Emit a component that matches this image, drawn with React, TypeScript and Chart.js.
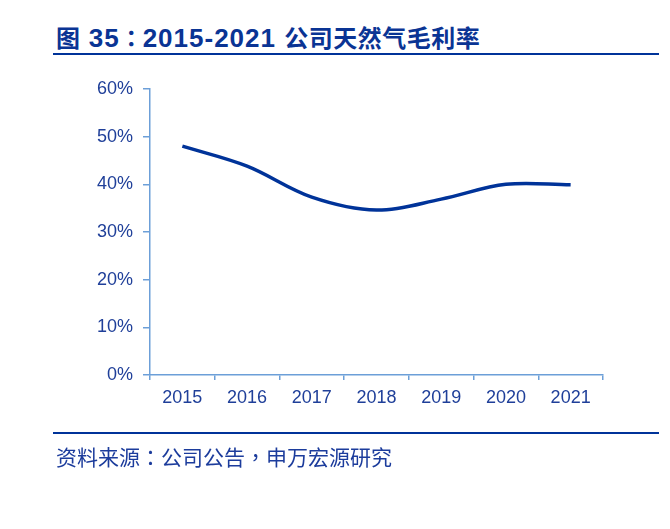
import React, { useEffect, useRef } from "react";
import { Chart, registerables } from "chart.js";

Chart.register(...registerables);

const years = ["2015", "2016", "2017", "2018", "2019", "2020", "2021"];
const grossMargin = [48, 43.8, 37.3, 34.6, 36.9, 40.0, 39.9];
const yTicks = [0, 10, 20, 30, 40, 50, 60];

const titleFig = "图";
const titleNum = "35";
const titleYears = "2015-2021";
const titleName = "公司天然气毛利率";
const sourceLabel = "资料来源";
const sourceA = "公司公告";
const sourceB = "申万宏源研究";

const AXIS_COLOR = "#6c9fd8";
const LABEL_COLOR = "#1f3f99";
const LINE_COLOR = "#003399";

const LATIN = "'Liberation Sans', Arial, sans-serif";
const CJK = "'Noto Sans CJK SC', sans-serif";
const PUNCT = "'Noto Sans CJK TC', sans-serif";

export default function App() {
  const canvasRef = useRef<HTMLCanvasElement>(null);

  useEffect(() => {
    const canvas = canvasRef.current;
    if (!canvas) return;
    const chart = new Chart(canvas, {
      type: "line",
      data: {
        labels: years,
        datasets: [
          {
            data: grossMargin,
            borderColor: LINE_COLOR,
            borderWidth: 3.5,
            pointRadius: 0,
            tension: 0.35,
            fill: false,
          },
        ],
      },
      options: {
        responsive: false,
        animation: false,
        layout: { padding: { top: 89, right: 67, left: 0, bottom: 0 } },
        plugins: { legend: { display: false }, tooltip: { enabled: false } },
        scales: {
          x: {
            offset: true,
            grid: {
              offset: true,
              drawOnChartArea: false,
              drawTicks: true,
              tickLength: 5,
              color: AXIS_COLOR,
              lineWidth: 1.5,
            },
            border: { color: AXIS_COLOR, width: 1.5 },
            ticks: {
              color: LABEL_COLOR,
              padding: 7,
              maxRotation: 0,
              font: { family: LATIN, size: 18 },
            },
            afterFit: (scale: any) => {
              scale.height = 154;
            },
          },
          y: {
            min: 0,
            max: 60,
            afterBuildTicks: (scale: any) => {
              scale.ticks = yTicks.map((v) => ({ value: v }));
            },
            grid: {
              drawOnChartArea: false,
              drawTicks: true,
              tickLength: 7,
              color: AXIS_COLOR,
              lineWidth: 1.5,
            },
            border: { color: AXIS_COLOR, width: 1.5 },
            ticks: {
              color: LABEL_COLOR,
              padding: 10,
              font: { family: LATIN, size: 18 },
              callback: (v: any) => `${v}%`,
            },
            afterFit: (scale: any) => {
              scale.width = 150;
            },
          },
        },
      },
    });
    return () => chart.destroy();
  }, []);

  const latinTitle = { fontFamily: LATIN, fontSize: 26, letterSpacing: 1 };
  const cjkTitle = { fontFamily: CJK, fontSize: 24, letterSpacing: 0.5 };

  return (
    <div
      style={{
        position: "absolute",
        left: 0,
        top: 0,
        width: 670,
        height: 529,
        background: "#ffffff",
        overflow: "hidden",
      }}
    >
      <div
        style={{
          position: "absolute",
          left: 56,
          top: 25,
          whiteSpace: "nowrap",
          fontWeight: 700,
          lineHeight: "24px",
          color: "#0a3494",
        }}
      >
        <span style={cjkTitle}>{titleFig}</span>
        <span style={latinTitle}>{" " + titleNum}</span>
        <span style={{ fontFamily: PUNCT, fontSize: 23 }}>：</span>
        <span style={latinTitle}>{titleYears + " "}</span>
        <span style={cjkTitle}>{titleName}</span>
      </div>
      <div
        style={{
          position: "absolute",
          left: 53,
          top: 53,
          width: 606,
          height: 2,
          background: LINE_COLOR,
        }}
      />
      <canvas
        ref={canvasRef}
        width={670}
        height={529}
        style={{ position: "absolute", left: 0, top: 0, width: 670, height: 529 }}
      />
      <div
        style={{
          position: "absolute",
          left: 53,
          top: 432,
          width: 606,
          height: 2,
          background: LINE_COLOR,
        }}
      />
      <div
        style={{
          position: "absolute",
          left: 56,
          top: 446,
          whiteSpace: "nowrap",
          fontFamily: CJK,
          fontSize: 21,
          lineHeight: "21px",
          color: "#1c3c9c",
        }}
      >
        {sourceLabel}
        <span style={{ fontFamily: PUNCT }}>：</span>
        {sourceA}
        <span style={{ fontFamily: PUNCT }}>，</span>
        {sourceB}
      </div>
    </div>
  );
}
